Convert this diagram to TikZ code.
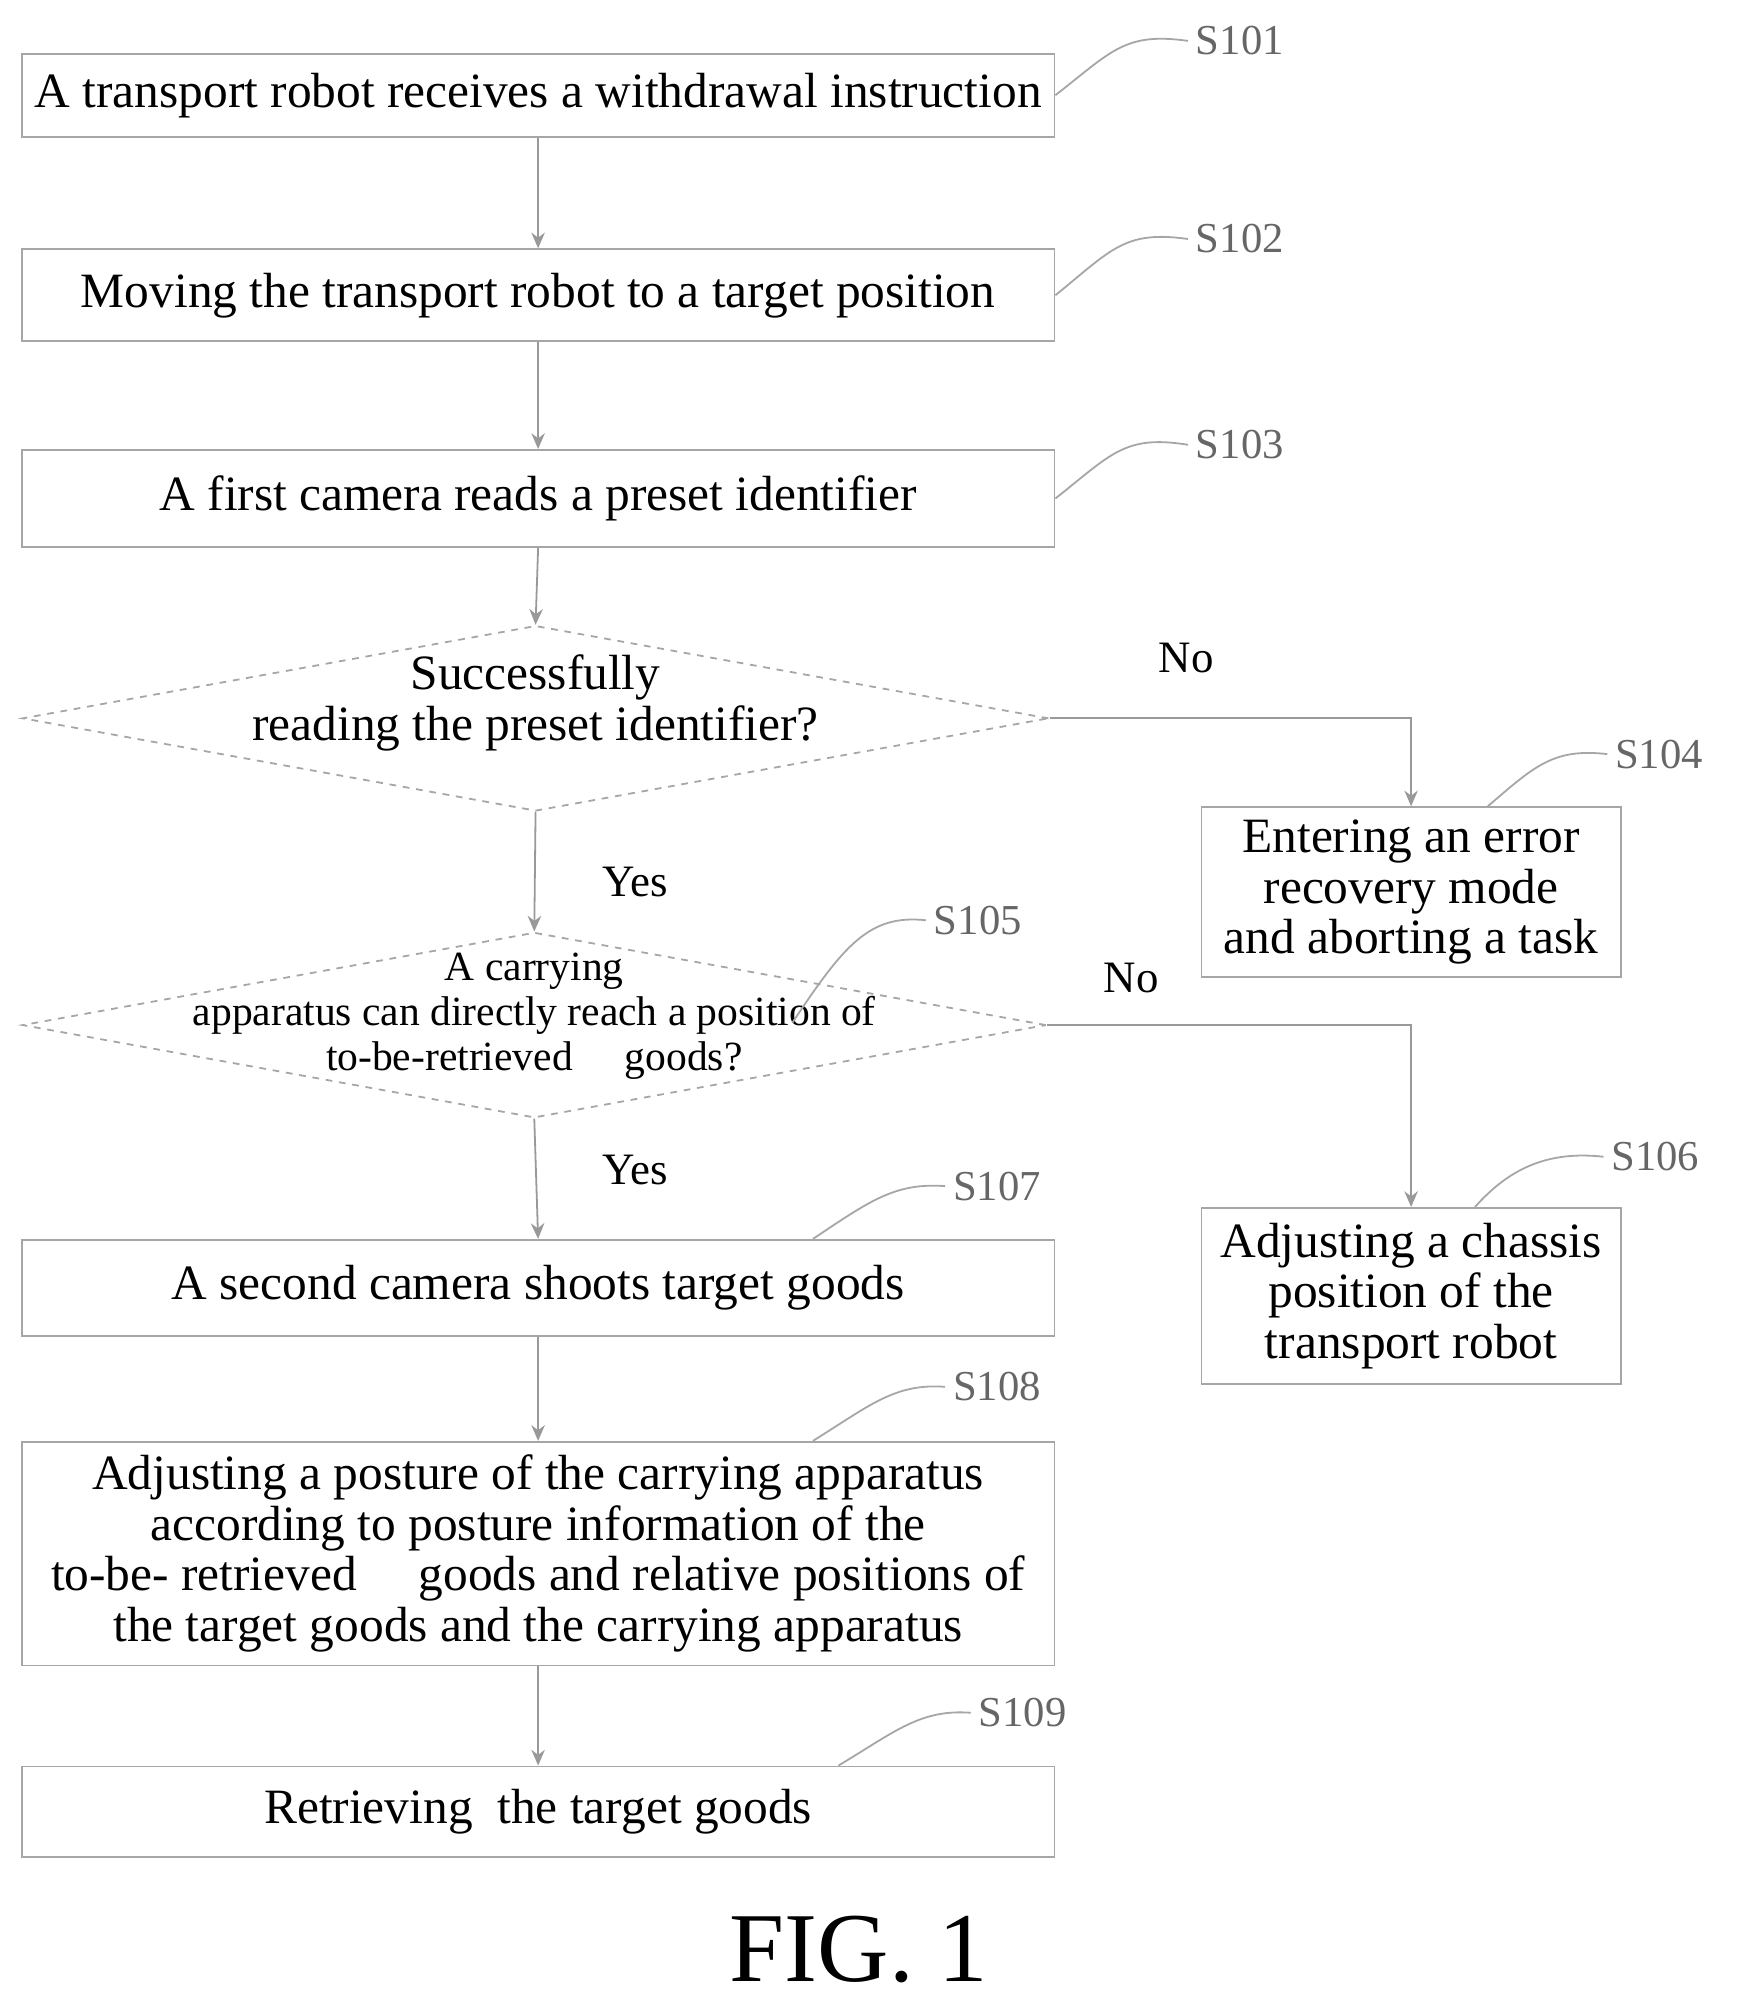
\documentclass[tikz,border=0pt]{standalone}
\usepackage{fontspec}
\setmainfont{Liberation Serif}
\usetikzlibrary{arrows.meta,shapes.geometric}
\begin{document}
\begin{tikzpicture}[x=0.02cm,y=-0.02cm,
  box/.style={draw=gray!70,line width=0.8pt,rectangle,inner sep=0pt,font=\fontsize{22}{22.5}\selectfont,align=center},
  dia/.style={draw=gray!70,dashed,line width=0.8pt,diamond,inner sep=0pt,align=center},
  ar/.style={draw=gray!80,line width=0.8pt,-{Stealth[length=7pt,width=6pt]}},
  lead/.style={draw=gray!70,line width=0.8pt},
  lab/.style={font=\fontsize{19}{23}\selectfont,text=gray!80!black},
  yn/.style={font=\fontsize{20}{23}\selectfont}]
\useasboundingbox (0,0) rectangle (1360,1571);
\node[box,minimum width=808*0.02cm,minimum height=65*0.02cm] (s101) at (421,74.5) {A transport robot receives a withdrawal instruction};
\node[box,minimum width=808*0.02cm,minimum height=72*0.02cm] (s102) at (421,231) {Moving the transport robot to a target position};
\node[box,minimum width=808*0.02cm,minimum height=76*0.02cm] (s103) at (421,390) {A first camera reads a preset identifier};
\node[dia,minimum width=803*0.02cm,minimum height=145*0.02cm] (d1) at (419,562) {};
\node[font=\fontsize{22}{22.5}\selectfont,align=center] (d1t) at (419,550) {Successfully\\reading the preset identifier?};
\node[box,minimum width=328*0.02cm,minimum height=133*0.02cm] (s104) at (1104,698) {Entering an error\\recovery mode\\and aborting a task};
\node[dia,minimum width=801*0.02cm,minimum height=145*0.02cm] (d2) at (418,802) {};
\node[font=\fontsize{18.5}{20}\selectfont,align=center] (d2t) at (418,795) {A carrying\\apparatus can directly reach a position of\\to-be-retrieved \quad goods?};
\node[box,minimum width=328*0.02cm,minimum height=138*0.02cm] (s106) at (1104,1014) {Adjusting a chassis\\position of the\\transport robot};
\node[box,minimum width=808*0.02cm,minimum height=75*0.02cm] (s107) at (421,1007.5) {A second camera shoots target goods};
\node[box,minimum width=808*0.02cm,minimum height=175*0.02cm] (s108) at (421,1215.5) {Adjusting a posture of the carrying apparatus\\according to posture information of the\\to-be- retrieved \quad goods and relative positions of\\the target goods and the carrying apparatus};
\node[box,minimum width=808*0.02cm,minimum height=71*0.02cm] (s109) at (421,1417.5) {Retrieving \ the target goods};
\node[font=\fontsize{44}{50}\selectfont] (fig) at (672,1525) {FIG. 1};
% labels
\node[lab] (l101) at (970,32) {S101};
\node[lab] (l102) at (970,187) {S102};
\node[lab] (l103) at (970,348) {S103};
\node[lab] (l104) at (1298,590) {S104};
\node[lab] (l105) at (765,720) {S105};
\node[lab] (l106) at (1295,905) {S106};
\node[lab] (l107) at (780,928) {S107};
\node[lab] (l108) at (780,1085) {S108};
\node[lab] (l109) at (800,1340) {S109};
\node[yn] (no1) at (928,515) {No};
\node[yn] (no2) at (885,765) {No};
\node[yn] (y1) at (497,690) {Yes};
\node[yn] (y2) at (497,915) {Yes};
% leaders
\draw[lead] (s101.east) .. controls (870,40) and (880,25) .. (l101.west);
\draw[lead] (s102.east) .. controls (870,195) and (880,180) .. (l102.west);
\draw[lead] (s103.east) .. controls (870,355) and (880,340) .. (l103.west);
\draw[lead] (s104.north) ++(60,0) .. controls (1200,600) and (1215,585) .. (l104.west);
\draw[lead] (620,800) .. controls (660,740) and (680,715) .. (l105.west);
\draw[lead] (s106.north) ++(50,0) .. controls (1180,915) and (1210,900) .. (l106.west);
\draw[lead] (s107.north) ++(215,0) .. controls (680,940) and (700,925) .. (l107.west);
\draw[lead] (s108.north) ++(215,0) .. controls (680,1100) and (700,1082) .. (l108.west);
\draw[lead] (s109.north) ++(235,0) .. controls (700,1355) and (720,1337) .. (l109.west);
% arrows
\draw[ar] (s101) -- (s102);
\draw[ar] (s102) -- (s103);
\draw[ar] (s103.south) -- (d1.north);
\draw[ar] (d1.east) -| (s104.north);
\draw[ar] (d1.south) -- (d2.north);
\draw[ar] (d2.east) -| (s106.north);
\draw[ar] (d2.south) -- (s107.north);
\draw[ar] (s107) -- (s108);
\draw[ar] (s108) -- (s109);
\end{tikzpicture}
\end{document}
